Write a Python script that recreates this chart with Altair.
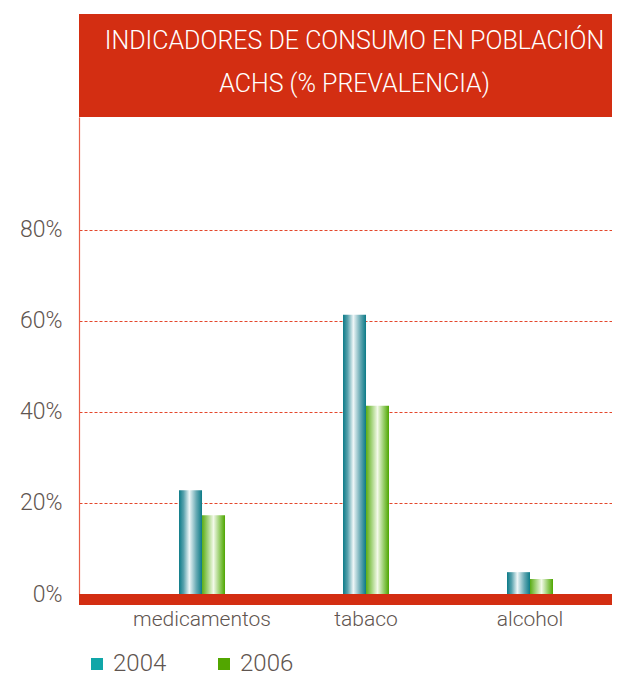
import altair as alt
import pandas as pd

categories = ["medicamentos", "tabaco", "alcohol"]
years = ["2004", "2006"]
values_2004 = [22.8, 61.4, 4.8]
values_2006 = [17.3, 41.4, 3.3]
y_ticks = [0, 20, 40, 60, 80]
title_line1 = "INDICADORES DE CONSUMO EN POBLACIÓN"
title_line2 = "ACHS (% PREVALENCIA)"

rows = []
for c, a, b in zip(categories, values_2004, values_2006):
    rows.append({"cat": c, "year": "2004", "value": a})
    rows.append({"cat": c, "year": "2006", "value": b})
df = pd.DataFrame(rows)

RED = "#d32e12"
TEXT = "#5f5550"
FONT = "Roboto"
W, H = 533, 477

x_enc = alt.X("cat:N", sort=categories,
              scale=alt.Scale(paddingInner=0.7195, paddingOuter=0.4848, align=0.629),
              axis=alt.Axis(title=None, labelAngle=0, domain=False, ticks=False,
                            labelFontSize=21, labelColor=TEXT, labelFont=FONT,
                            labelFontWeight=300, labelPadding=14))
y_enc = alt.Y("value:Q", scale=alt.Scale(domain=[0, 104.835], nice=False, zero=True),
              axis=alt.Axis(title=None, values=y_ticks, format=".0f",
                            labelExpr="datum.value + '%'",
                            ticks=False, domainColor="#e8604a", domainWidth=1.2,
                            grid=True, gridColor="#e4472c", gridDash=[3, 2],
                            gridWidth=1, labelFontSize=23, labelColor=TEXT,
                            labelFont=FONT, labelFontWeight=300, labelPadding=17))
xo_enc = alt.XOffset("year:N", sort=years, scale=alt.Scale(domain=years, paddingInner=0, paddingOuter=0))

teal_grad = alt.LinearGradient(
    gradient="linear", x1=0, x2=1, y1=0, y2=0,
    stops=[alt.GradientStop(offset=0, color="#0b7a87"),
           alt.GradientStop(offset=0.2, color="#58a2ad"),
           alt.GradientStop(offset=0.45, color="#eef6f7"),
           alt.GradientStop(offset=0.75, color="#68aab4"),
           alt.GradientStop(offset=1, color="#0b7a87")])
green_grad = alt.LinearGradient(
    gradient="linear", x1=0, x2=1, y1=0, y2=0,
    stops=[alt.GradientStop(offset=0, color="#5aac14"),
           alt.GradientStop(offset=0.22, color="#9bcf70"),
           alt.GradientStop(offset=0.5, color="#f2f9e8"),
           alt.GradientStop(offset=0.78, color="#92cb62"),
           alt.GradientStop(offset=1, color="#4ea600")])

base = alt.Chart(df)

band = base.mark_rect(color=RED).encode(
    x=alt.value(0), x2=alt.value(W), y=alt.value(-103), y2=alt.value(0))

title1 = alt.Chart(pd.DataFrame({"t": [title_line1]})).mark_text(
    color="white", fontSize=25, font=FONT, fontWeight=300, align="center",
    baseline="alphabetic").encode(text="t:N", x=alt.value(275.5), y=alt.value(-68))
title2 = alt.Chart(pd.DataFrame({"t": [title_line2]})).mark_text(
    color="white", fontSize=25, font=FONT, fontWeight=300, align="center",
    baseline="alphabetic").encode(text="t:N", x=alt.value(275.5), y=alt.value(-25))

bars04 = base.transform_filter(alt.datum.year == "2004").mark_bar(fill=teal_grad).encode(
    x=x_enc, y=y_enc, xOffset=xo_enc)
bars06 = base.transform_filter(alt.datum.year == "2006").mark_bar(fill=green_grad).encode(
    x=x_enc, y=y_enc, xOffset=xo_enc)

legend_layer = base.mark_square(opacity=0, size=10).encode(
    x=x_enc, y=y_enc, xOffset=xo_enc,
    color=alt.Color("year:N", sort=years,
                    scale=alt.Scale(domain=years, range=["#10a6a8", "#52a600"]),
                    legend=alt.Legend(title=None, orient="none", legendX=6, legendY=535,
                                      direction="horizontal", symbolType="square",
                                      symbolSize=144, symbolOpacity=1, symbolStrokeWidth=0,
                                      labelFontSize=24, labelColor=TEXT, labelFont=FONT,
                                      labelFontWeight=300, labelOffset=4, columnPadding=45)))

baseline = alt.Chart(pd.DataFrame({"value": [0]})).mark_rule(color=RED, strokeWidth=11, yOffset=5.5).encode(
    y=y_enc)

chart = alt.layer(band, title1, title2, legend_layer, baseline, bars04, bars06).properties(
    width=W, height=H,
    autosize=alt.AutoSizeParams(type="none"),
    padding={"left": 71, "top": 109, "right": 0, "bottom": 85},
).configure_view(stroke=None)

chart.save("out.html", embed_options={"renderer": "svg", "actions": False})
